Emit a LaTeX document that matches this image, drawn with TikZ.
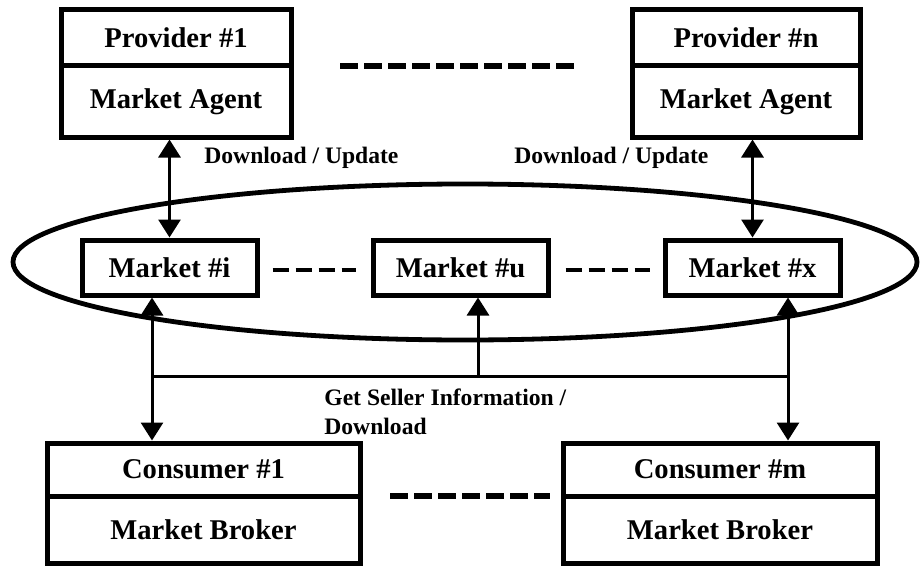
\documentclass[tikz,border=0pt]{standalone}
\usepackage{fontspec}
\setmainfont{Liberation Serif}
\usetikzlibrary{shapes.geometric,arrows.meta}
\begin{document}
\begin{tikzpicture}[x=0.5pt,y=-0.5pt,
  box/.style={draw,line width=2.5pt,rectangle,inner sep=0pt,font=\fontsize{14.3}{16}\selectfont\bfseries},
  lbl/.style={inner sep=0pt,font=\fontsize{11.8}{14.5}\selectfont\bfseries},
  arr/.style={line width=1.5pt,{Triangle[length=9pt,width=11pt]}-{Triangle[length=9pt,width=11pt]}},
  uarr/.style={line width=1.5pt,-{Triangle[length=9pt,width=11pt]}},
  dsh/.style={line width=3pt,dash pattern=on 9pt off 3pt},
  mdsh/.style={line width=2pt,dash pattern=on 8pt off 3.5pt}]
\useasboundingbox (0,0) rectangle (920,567);
% ring
\node (ring) [ellipse,draw,line width=2.4pt,minimum width=452pt,minimum height=78pt,inner sep=0pt] at (465,262) {};
% providers
\node (p1t) [box,minimum width=115pt,minimum height=28pt] at (176,38) {Provider \#1};
\node (p1b) [box,minimum width=115pt,minimum height=35.5pt] at (176,101.5) {Market Agent};
\node (pnt) [box,minimum width=114pt,minimum height=28pt] at (746,38) {Provider \#n};
\node (pnb) [box,minimum width=114pt,minimum height=35.5pt] at (746,101.5) {Market Agent};
% markets
\node (mi) [box,minimum width=87.5pt,minimum height=27.5pt] at (169.5,267.5) {Market \#i};
\node (mu) [box,minimum width=87.5pt,minimum height=27.5pt] at (460.5,267.5) {Market \#u};
\node (mx) [box,minimum width=87.5pt,minimum height=27.5pt] at (752.5,267.5) {Market \#x};
% consumers
\node (c1t) [box,minimum width=156.5pt,minimum height=26.5pt] at (203.5,469.5) {Consumer \#1};
\node (c1b) [box,minimum width=156.5pt,minimum height=33.5pt] at (203.5,529.5) {Market Broker};
\node (cmt) [box,minimum width=157pt,minimum height=26.5pt] at (720,469.5) {Consumer \#m};
\node (cmb) [box,minimum width=157pt,minimum height=33.5pt] at (720,529.5) {Market Broker};
% labels
\node (dl1) [lbl,anchor=west] at (204,158) {Download / Update};
\node (dl2) [lbl,anchor=west] at (514,158) {Download / Update};
\node (gsi) [lbl,anchor=north west,align=left] at (324,388) {Get Seller Information /\\Download};
% dashed separators
\coordinate (td1) at (340,66); \coordinate (td2) at (576,66);
\coordinate (bd1) at (390,496); \coordinate (bd2) at (550,496);
\draw[dsh] (td1) -- (td2);
\draw[dsh] (bd1) -- (bd2);
\draw[mdsh] ([xshift=6.5pt,yshift=-1.2pt]mi.east) -- ([xshift=-7.5pt,yshift=-1.2pt]mu.west);
\draw[mdsh] ([xshift=7.5pt,yshift=-1.2pt]mu.east) -- ([xshift=-6.5pt,yshift=-1.2pt]mx.west);
% provider arrows
\draw[arr] (mi.north |- p1b.south) -- (mi.north);
\draw[arr] (mx.north |- pnb.south) -- (mx.north);
% consumer connections
\coordinate (jl) at (152,376);
\coordinate (jm) at (478,376);
\coordinate (jr) at (788,376);
\draw[line width=1.5pt] (jl) -- (jr);
\draw[arr] (mi.south -| jl) -- (c1t.north -| jl);
\draw[arr] (mx.south -| jr) -- (cmt.north -| jr);
\draw[uarr] (jm) -- (mu.south -| jm);
\end{tikzpicture}
\end{document}
